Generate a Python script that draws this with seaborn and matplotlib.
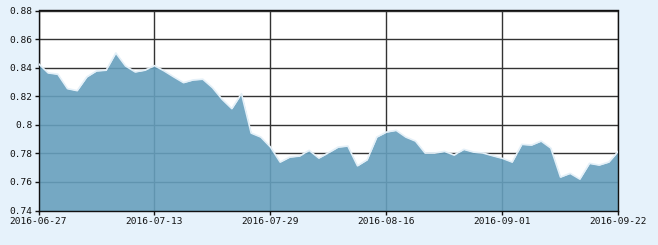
import matplotlib
matplotlib.use("Agg")
import matplotlib.pyplot as plt
import seaborn as sns
import pandas as pd

values = [0.8428, 0.8363, 0.8354, 0.8253, 0.8239, 0.8335, 0.8377, 0.8382, 0.8503, 0.8412,
          0.8370, 0.8382, 0.8414, 0.8377, 0.8335, 0.8295, 0.8314, 0.8319, 0.8260, 0.8178,
          0.8113, 0.8218, 0.7942, 0.7914, 0.7844, 0.7739, 0.7774, 0.7781, 0.7821, 0.7767,
          0.7804, 0.7844, 0.7851, 0.7713, 0.7755, 0.7914, 0.7949, 0.7961, 0.7914, 0.7886,
          0.7802, 0.7802, 0.7814, 0.7788, 0.7828, 0.7809, 0.7802, 0.7783, 0.7765, 0.7739,
          0.7863, 0.7858, 0.7886, 0.7837, 0.7634, 0.7660, 0.7620, 0.7730, 0.7718, 0.7739,
          0.7816]
tick_labels = ["2016-06-27", "2016-07-13", "2016-07-29", "2016-08-16", "2016-09-01", "2016-09-22"]
y_ticks = [0.74, 0.76, 0.78, 0.80, 0.82, 0.84, 0.86, 0.88]
y_labels = ["0.74", "0.76", "0.78", "0.8", "0.82", "0.84", "0.86", "0.88"]

df = pd.DataFrame({"i": range(len(values)), "v": values})

sns.set_style("white")
plt.rcParams["font.family"] = ["DejaVu Sans Mono"]

fig = plt.figure(figsize=(6.58, 2.45), dpi=100)
fig.patch.set_facecolor("#e6f2fb")
ax = fig.add_axes([38.5 / 658, 1 - 210.5 / 245, (618.5 - 38.5) / 658, 200 / 245])
ax.set_facecolor("white")

ax.set_xlim(0, len(values) - 1)
ax.set_ylim(0.74, 0.88)
step = 12
ax.set_xticks([k * step for k in range(len(tick_labels))])
ax.set_xticklabels(tick_labels)
ax.set_yticks(y_ticks)
ax.set_yticklabels(y_labels)
ax.grid(True, color="#333333", linewidth=1.0)
ax.set_axisbelow(True)

ax.fill_between(df["i"], 0.74, df["v"], color="#669fbd", alpha=0.9, linewidth=0, zorder=2)
sns.lineplot(data=df, x="i", y="v", ax=ax, color="#e4f0f8", linewidth=1.2, zorder=3)

for s in ax.spines.values():
    s.set_color("#111111")
    s.set_linewidth(1.0)
ax.tick_params(axis="both", direction="out", length=3, width=1, color="#111111",
               labelsize=6.8, labelcolor="#111111", pad=1.5, left=True, bottom=True)
ax.set_xlabel("")
ax.set_ylabel("")

fig.savefig("out.png", dpi=100, facecolor=fig.get_facecolor())
